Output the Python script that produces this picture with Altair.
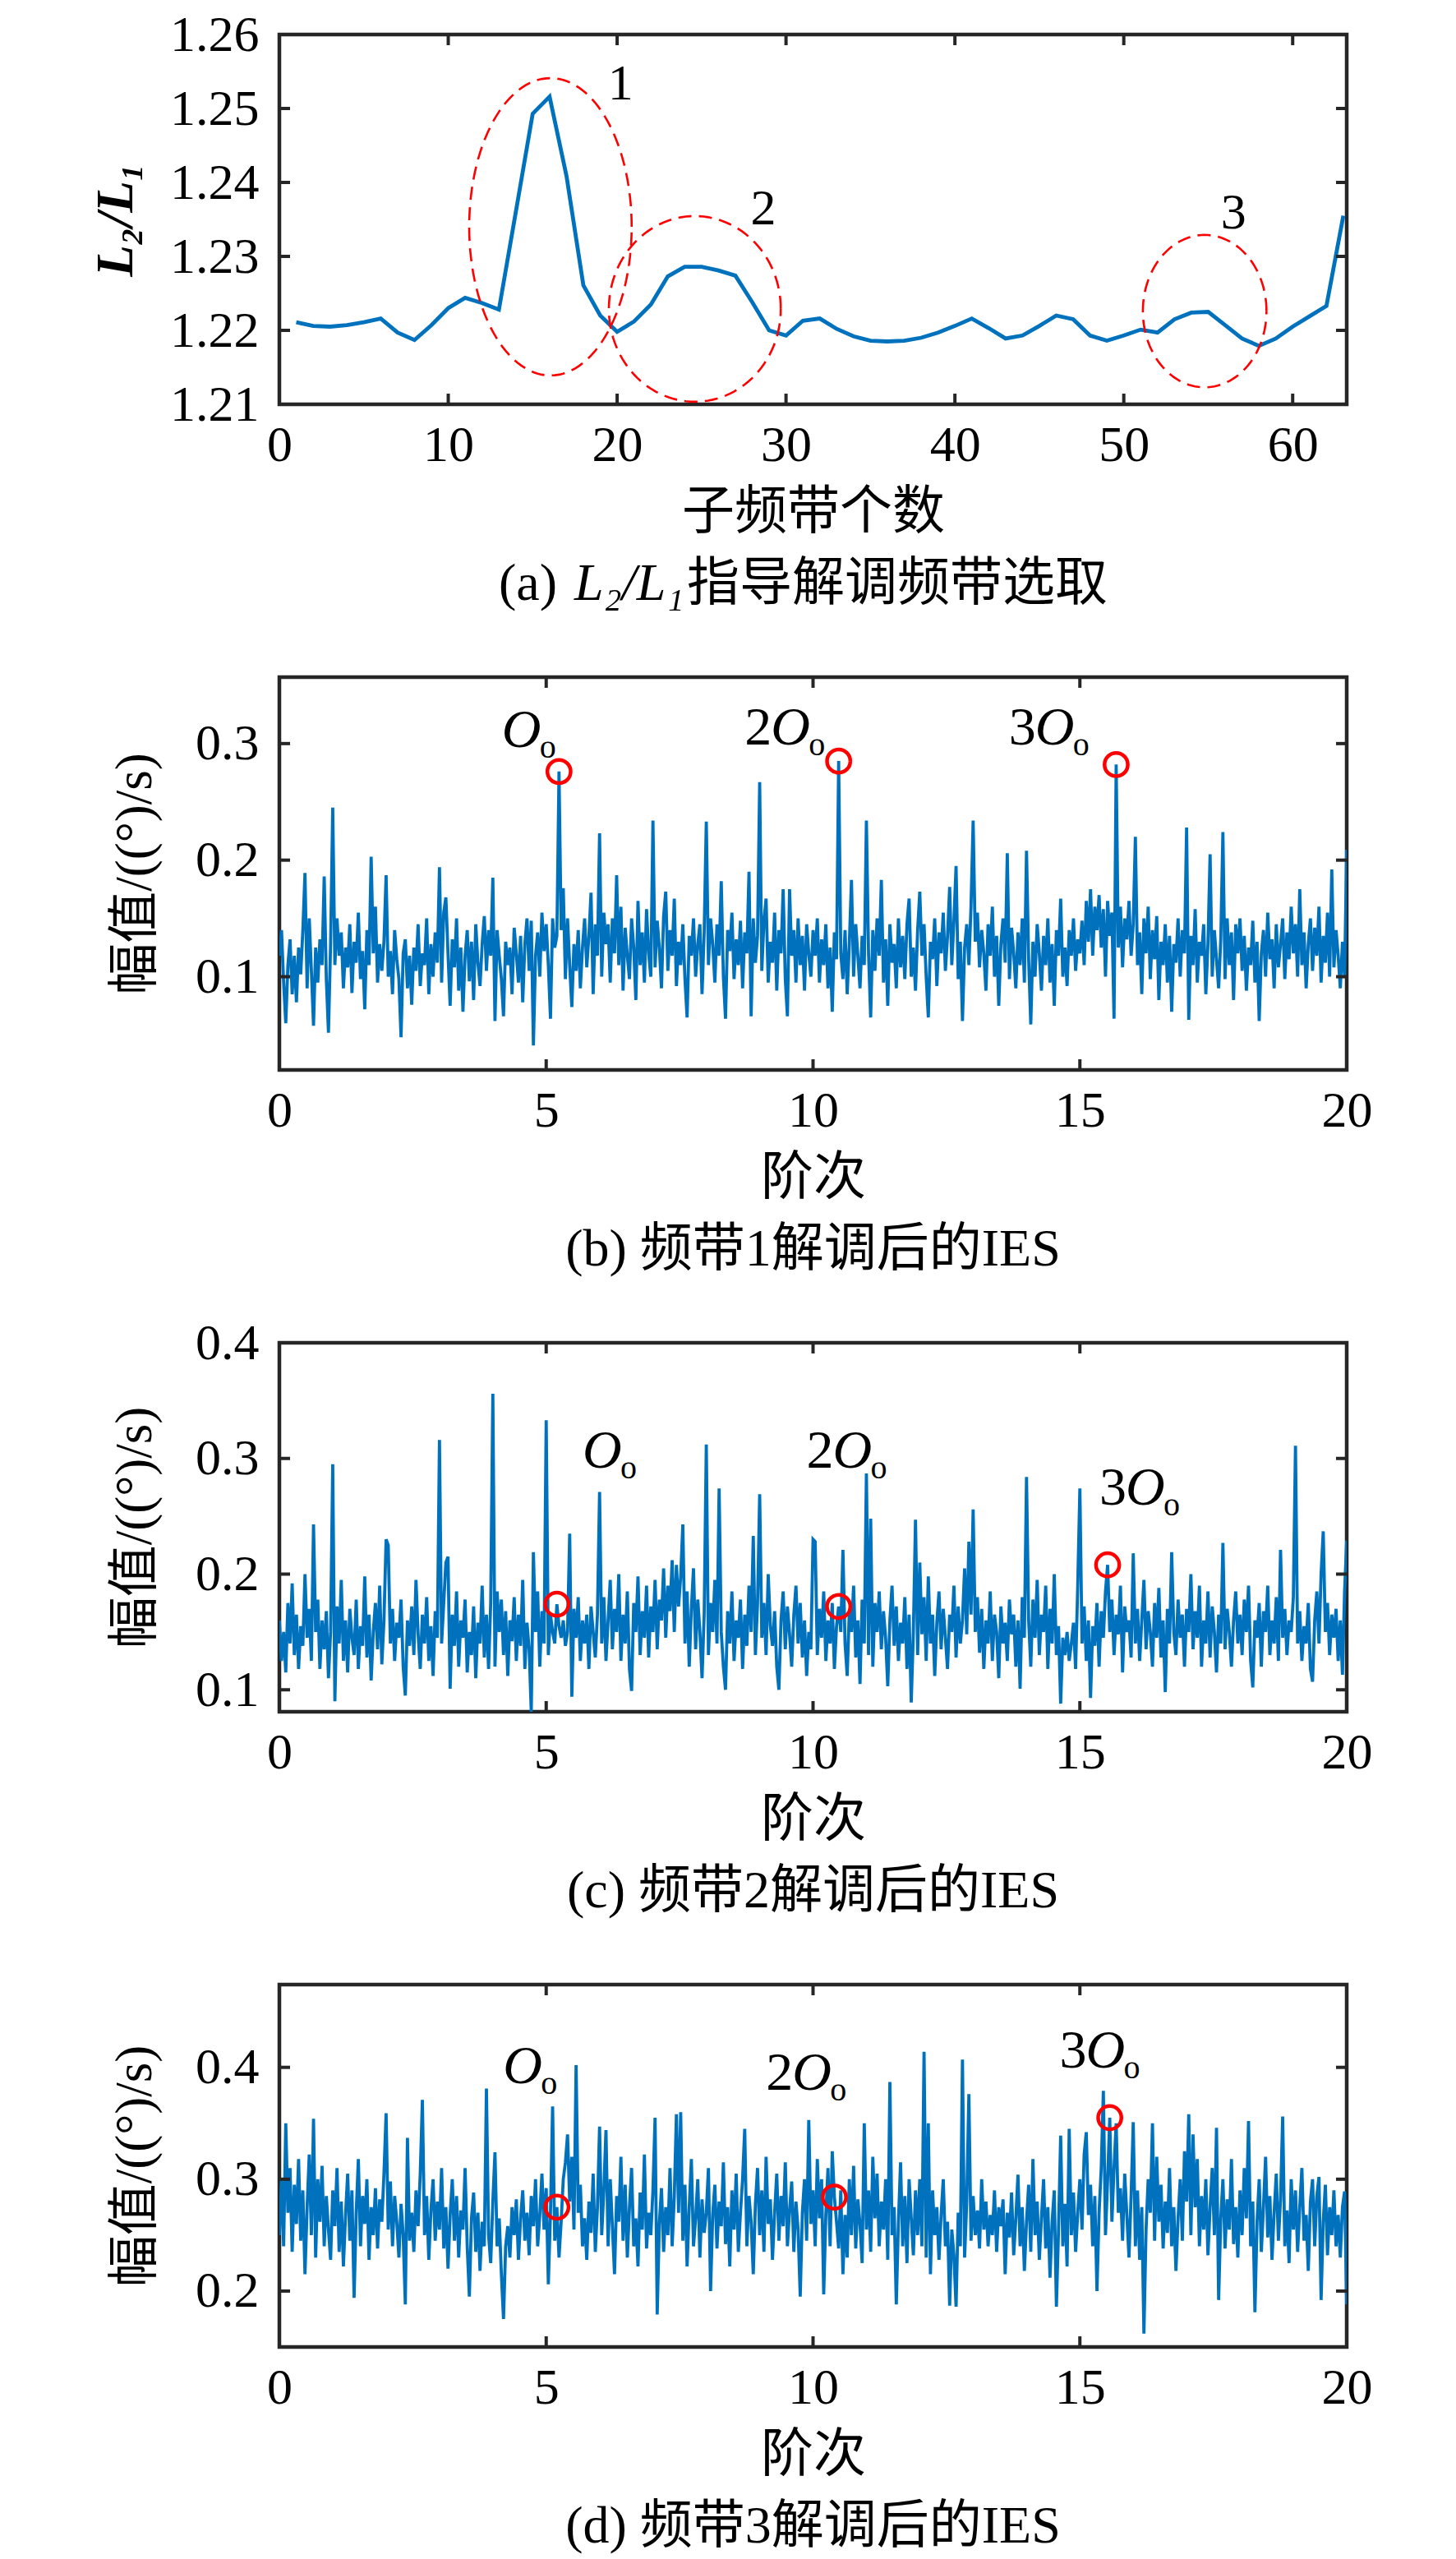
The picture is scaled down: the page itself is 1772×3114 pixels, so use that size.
import altair as alt
import numpy as np
import pandas as pd

SERIF = "'Liberation Serif', 'Noto Sans CJK SC', serif"
BLUE = "#0072BD"
RED = "#FF0000"
FRAME = "#262626"
W = 1299
TICK_LEN = 13
SPACING = 332
CAP_OFF = 219

# ---------------- panel (a) ----------------
band_index = list(range(1, 64))
l2_l1 = [1.2211, 1.2206, 1.2205, 1.2207, 1.2211, 1.2216, 1.2197, 1.2187, 1.2207, 1.2230,
         1.2244, 1.2237, 1.2228, 1.2360, 1.2493, 1.2516, 1.2409, 1.2261, 1.2220, 1.2198,
         1.2212, 1.2235, 1.2273, 1.2286, 1.2286, 1.2281, 1.2274, 1.2238, 1.2200, 1.2193,
         1.2213, 1.2216, 1.2202, 1.2192, 1.2186, 1.2185, 1.2186, 1.2190, 1.2197, 1.2206,
         1.2216, 1.2203, 1.2189, 1.2193, 1.2206, 1.2220, 1.2215, 1.2193, 1.2186, 1.2193,
         1.2201, 1.2197, 1.2215, 1.2224, 1.2225, 1.2207, 1.2189, 1.2179, 1.2189, 1.2205,
         1.2219, 1.2233, 1.2355]
a_xticks = [0, 10, 20, 30, 40, 50, 60]
a_yticks = [1.21, 1.22, 1.23, 1.24, 1.25, 1.26]
ell_cx = [16.05, 24.6, 54.79]
ell_cy = [1.2340, 1.2229, 1.2226]
ell_rx = [4.81, 5.09, 3.66]
ell_ry = [0.0201, 0.01255, 0.0103]
a_lab_text = ["1", "2", "3"]
a_lab_x = [20.2, 28.66, 56.5]
a_lab_y = [1.2533, 1.2364, 1.2359]

# ---------------- spectra (b), (c), (d) ----------------
amp_b = [
    0.118, 0.140, 0.095, 0.060, 0.110, 0.132, 0.085, 0.118, 0.078, 0.125, 0.102, 0.140, 0.189, 0.090, 0.150, 0.105, 0.058, 0.125, 0.095, 0.132, 0.110, 0.186, 0.098, 0.052, 0.128,
    0.245, 0.110, 0.150, 0.118, 0.138, 0.090, 0.125, 0.108, 0.145, 0.086, 0.130, 0.112, 0.155, 0.098, 0.122, 0.072, 0.140, 0.110, 0.203, 0.120, 0.160, 0.095, 0.128, 0.105, 0.130,
    0.187, 0.100, 0.122, 0.085, 0.140, 0.115, 0.098, 0.048, 0.120, 0.132, 0.090, 0.118, 0.076, 0.125, 0.105, 0.145, 0.092, 0.120, 0.110, 0.150, 0.085, 0.128, 0.100, 0.138, 0.112,
    0.194, 0.095, 0.155, 0.168, 0.120, 0.075, 0.132, 0.108, 0.150, 0.088, 0.125, 0.070, 0.118, 0.140, 0.096, 0.130, 0.080, 0.145, 0.112, 0.092, 0.128, 0.152, 0.105, 0.140, 0.118,
    0.185, 0.062, 0.140, 0.118, 0.098, 0.066, 0.130, 0.110, 0.125, 0.085, 0.142, 0.120, 0.095, 0.135, 0.078, 0.128, 0.150, 0.105, 0.148, 0.041, 0.118, 0.138, 0.100, 0.155, 0.122,
    0.145, 0.110, 0.064, 0.150, 0.125, 0.135, 0.276, 0.140, 0.176, 0.098, 0.150, 0.110, 0.074, 0.128, 0.105, 0.140, 0.090, 0.125, 0.150, 0.108, 0.135, 0.172, 0.085, 0.145, 0.118,
    0.223, 0.100, 0.155, 0.128, 0.145, 0.095, 0.150, 0.120, 0.187, 0.110, 0.160, 0.088, 0.142, 0.118, 0.098, 0.150, 0.125, 0.080, 0.165, 0.110, 0.138, 0.095, 0.158, 0.120, 0.100,
    0.234, 0.108, 0.148, 0.125, 0.090, 0.152, 0.173, 0.105, 0.140, 0.118, 0.167, 0.092, 0.130, 0.110, 0.145, 0.098, 0.065, 0.135, 0.118, 0.150, 0.100, 0.128, 0.145, 0.085, 0.138,
    0.233, 0.110, 0.150, 0.128, 0.095, 0.145, 0.118, 0.182, 0.100, 0.064, 0.140, 0.122, 0.155, 0.098, 0.132, 0.110, 0.148, 0.090, 0.138, 0.120, 0.190, 0.066, 0.150, 0.112, 0.135,
    0.267, 0.105, 0.148, 0.167, 0.095, 0.130, 0.112, 0.155, 0.088, 0.140, 0.120, 0.175, 0.098, 0.066, 0.175, 0.118, 0.140, 0.095, 0.150, 0.110, 0.135, 0.088, 0.145, 0.120, 0.100,
    0.140, 0.118, 0.150, 0.095, 0.132, 0.110, 0.145, 0.090, 0.125, 0.070, 0.138, 0.115, 0.285, 0.120, 0.098, 0.140, 0.085, 0.128, 0.183, 0.100, 0.145, 0.118, 0.090, 0.135, 0.110,
    0.234, 0.120, 0.065, 0.140, 0.105, 0.150, 0.118, 0.183, 0.095, 0.132, 0.075, 0.145, 0.112, 0.128, 0.090, 0.150, 0.108, 0.135, 0.098, 0.145, 0.167, 0.100, 0.125, 0.088, 0.140,
    0.173, 0.118, 0.145, 0.100, 0.065, 0.130, 0.115, 0.150, 0.092, 0.138, 0.120, 0.155, 0.105, 0.135, 0.177, 0.110, 0.148, 0.195, 0.098, 0.130, 0.062, 0.125, 0.145, 0.110, 0.160,
    0.234, 0.130, 0.155, 0.108, 0.140, 0.120, 0.088, 0.145, 0.118, 0.160, 0.100, 0.135, 0.075, 0.128, 0.150, 0.112, 0.206, 0.098, 0.142, 0.120, 0.090, 0.138, 0.110, 0.150, 0.095,
    0.208, 0.115, 0.059, 0.130, 0.100, 0.145, 0.120, 0.088, 0.135, 0.110, 0.150, 0.095, 0.128, 0.075, 0.140, 0.118, 0.167, 0.100, 0.125, 0.092, 0.140, 0.118, 0.150, 0.105, 0.132,
    0.120, 0.148, 0.110, 0.165, 0.130, 0.175, 0.118, 0.160, 0.140, 0.170, 0.125, 0.158, 0.100, 0.165, 0.135, 0.155, 0.064, 0.282, 0.125, 0.160, 0.108, 0.150, 0.132, 0.165, 0.118,
    0.145, 0.220, 0.110, 0.138, 0.085, 0.150, 0.120, 0.160, 0.098, 0.140, 0.115, 0.152, 0.080, 0.130, 0.110, 0.145, 0.095, 0.135, 0.070, 0.128, 0.112, 0.150, 0.100, 0.140, 0.120,
    0.228, 0.063, 0.135, 0.110, 0.158, 0.095, 0.130, 0.118, 0.145, 0.085, 0.128, 0.205, 0.100, 0.140, 0.115, 0.090, 0.132, 0.224, 0.098, 0.150, 0.110, 0.138, 0.080, 0.145, 0.120,
    0.150, 0.105, 0.135, 0.088, 0.125, 0.110, 0.148, 0.095, 0.130, 0.062, 0.120, 0.140, 0.100, 0.155, 0.115, 0.132, 0.090, 0.145, 0.108, 0.128, 0.150, 0.098, 0.138, 0.115, 0.160,
    0.120, 0.145, 0.100, 0.175, 0.110, 0.138, 0.090, 0.128, 0.150, 0.105, 0.142, 0.118, 0.160, 0.095, 0.135, 0.112, 0.155, 0.100, 0.192, 0.108, 0.140, 0.118, 0.090, 0.130, 0.100,
    0.209]

amp_c = [
    0.160, 0.125, 0.150, 0.115, 0.175, 0.140, 0.192, 0.130, 0.165, 0.118, 0.155, 0.138, 0.200, 0.145, 0.170, 0.125, 0.243, 0.150, 0.178, 0.118, 0.160, 0.135, 0.168, 0.110, 0.150,
    0.295, 0.090, 0.172, 0.140, 0.195, 0.125, 0.160, 0.115, 0.170, 0.145, 0.130, 0.178, 0.118, 0.155, 0.138, 0.198, 0.128, 0.165, 0.108, 0.150, 0.175, 0.135, 0.190, 0.122, 0.160,
    0.230, 0.225, 0.140, 0.170, 0.125, 0.158, 0.145, 0.178, 0.120, 0.095, 0.160, 0.138, 0.172, 0.130, 0.195, 0.148, 0.118, 0.165, 0.140, 0.180, 0.125, 0.155, 0.112, 0.168, 0.145,
    0.316, 0.140, 0.175, 0.210, 0.215, 0.101, 0.165, 0.138, 0.185, 0.120, 0.160, 0.145, 0.178, 0.115, 0.150, 0.130, 0.172, 0.110, 0.158, 0.140, 0.190, 0.128, 0.165, 0.118, 0.175,
    0.356, 0.120, 0.185, 0.150, 0.178, 0.130, 0.168, 0.112, 0.160, 0.142, 0.180, 0.125, 0.165, 0.138, 0.195, 0.118, 0.158, 0.135, 0.081, 0.219, 0.150, 0.185, 0.120, 0.168, 0.140,
    0.333, 0.130, 0.165, 0.150, 0.140, 0.174, 0.155, 0.145, 0.160, 0.138, 0.150, 0.235, 0.094, 0.170, 0.145, 0.180, 0.125, 0.160, 0.140, 0.165, 0.118, 0.172, 0.150, 0.128, 0.165,
    0.271, 0.140, 0.180, 0.125, 0.160, 0.195, 0.135, 0.170, 0.150, 0.200, 0.125, 0.165, 0.140, 0.185, 0.118, 0.099, 0.175, 0.150, 0.198, 0.130, 0.168, 0.145, 0.190, 0.128, 0.172,
    0.150, 0.195, 0.135, 0.178, 0.160, 0.205, 0.145, 0.190, 0.168, 0.212, 0.150, 0.208, 0.172, 0.198, 0.243, 0.140, 0.185, 0.120, 0.170, 0.205, 0.135, 0.178, 0.150, 0.110, 0.165,
    0.312, 0.130, 0.175, 0.150, 0.195, 0.140, 0.274, 0.150, 0.120, 0.100, 0.168, 0.140, 0.185, 0.125, 0.160, 0.145, 0.178, 0.118, 0.165, 0.138, 0.190, 0.150, 0.233, 0.130, 0.175,
    0.269, 0.145, 0.175, 0.130, 0.200, 0.155, 0.138, 0.168, 0.120, 0.100, 0.160, 0.185, 0.135, 0.172, 0.148, 0.120, 0.165, 0.190, 0.140, 0.175, 0.128, 0.160, 0.112, 0.150, 0.135,
    0.230, 0.228, 0.130, 0.170, 0.145, 0.185, 0.125, 0.160, 0.140, 0.175, 0.118, 0.155, 0.172, 0.150, 0.221, 0.140, 0.112, 0.168, 0.150, 0.190, 0.128, 0.160, 0.105, 0.178, 0.140,
    0.287, 0.130, 0.248, 0.120, 0.175, 0.150, 0.185, 0.135, 0.168, 0.145, 0.103, 0.160, 0.190, 0.138, 0.172, 0.125, 0.158, 0.140, 0.180, 0.118, 0.165, 0.089, 0.150, 0.247, 0.130,
    0.210, 0.148, 0.180, 0.125, 0.198, 0.140, 0.165, 0.112, 0.158, 0.185, 0.135, 0.170, 0.145, 0.118, 0.165, 0.150, 0.190, 0.128, 0.172, 0.140, 0.160, 0.205, 0.148, 0.228, 0.165,
    0.256, 0.150, 0.180, 0.132, 0.170, 0.118, 0.160, 0.140, 0.185, 0.125, 0.165, 0.150, 0.110, 0.172, 0.140, 0.158, 0.125, 0.178, 0.148, 0.165, 0.120, 0.160, 0.101, 0.180, 0.145,
    0.284, 0.160, 0.120, 0.178, 0.145, 0.195, 0.130, 0.165, 0.150, 0.190, 0.118, 0.170, 0.140, 0.200, 0.130, 0.155, 0.088, 0.145, 0.130, 0.150, 0.125, 0.140, 0.158, 0.118, 0.190,
    0.274, 0.140, 0.172, 0.125, 0.160, 0.093, 0.155, 0.138, 0.175, 0.120, 0.168, 0.145, 0.185, 0.208, 0.150, 0.178, 0.130, 0.165, 0.148, 0.190, 0.115, 0.172, 0.150, 0.160, 0.128,
    0.218, 0.140, 0.170, 0.125, 0.160, 0.195, 0.135, 0.168, 0.150, 0.120, 0.175, 0.145, 0.188, 0.128, 0.160, 0.098, 0.170, 0.140, 0.219, 0.150, 0.130, 0.178, 0.145, 0.165, 0.120,
    0.170, 0.150, 0.200, 0.135, 0.168, 0.145, 0.190, 0.120, 0.160, 0.140, 0.185, 0.128, 0.172, 0.150, 0.115, 0.165, 0.140, 0.227, 0.135, 0.170, 0.150, 0.120, 0.160, 0.185, 0.140,
    0.165, 0.130, 0.178, 0.150, 0.190, 0.125, 0.102, 0.160, 0.145, 0.175, 0.120, 0.168, 0.150, 0.190, 0.130, 0.160, 0.140, 0.180, 0.125, 0.221, 0.145, 0.170, 0.130, 0.160, 0.150,
    0.180, 0.311, 0.140, 0.168, 0.125, 0.155, 0.140, 0.175, 0.118, 0.107, 0.160, 0.185, 0.140, 0.200, 0.237, 0.150, 0.175, 0.130, 0.165, 0.145, 0.170, 0.125, 0.160, 0.113, 0.185,
    0.229]

amp_d = [
    0.250, 0.300, 0.240, 0.350, 0.270, 0.310, 0.235, 0.295, 0.260, 0.318, 0.245, 0.290, 0.215, 0.275, 0.322, 0.250, 0.354, 0.230, 0.300, 0.262, 0.312, 0.240, 0.285, 0.255, 0.228,
    0.290, 0.258, 0.310, 0.235, 0.280, 0.222, 0.268, 0.305, 0.245, 0.290, 0.194, 0.270, 0.318, 0.240, 0.285, 0.260, 0.300, 0.228, 0.275, 0.250, 0.292, 0.238, 0.282, 0.262, 0.305,
    0.359, 0.255, 0.298, 0.240, 0.285, 0.262, 0.230, 0.278, 0.250, 0.188, 0.337, 0.245, 0.270, 0.235, 0.290, 0.258, 0.305, 0.371, 0.250, 0.285, 0.228, 0.272, 0.300, 0.245, 0.280,
    0.255, 0.310, 0.238, 0.275, 0.220, 0.268, 0.300, 0.245, 0.285, 0.230, 0.272, 0.255, 0.310, 0.240, 0.195, 0.265, 0.288, 0.235, 0.270, 0.218, 0.262, 0.240, 0.381, 0.250, 0.225,
    0.280, 0.324, 0.240, 0.265, 0.215, 0.175, 0.240, 0.258, 0.230, 0.275, 0.250, 0.282, 0.228, 0.265, 0.290, 0.245, 0.270, 0.232, 0.285, 0.258, 0.300, 0.240, 0.268, 0.305, 0.255,
    0.292, 0.206, 0.270, 0.365, 0.245, 0.275, 0.230, 0.262, 0.300, 0.315, 0.340, 0.280, 0.320, 0.255, 0.402, 0.270, 0.295, 0.240, 0.265, 0.228, 0.280, 0.252, 0.305, 0.235, 0.275,
    0.347, 0.250, 0.290, 0.344, 0.240, 0.300, 0.258, 0.215, 0.285, 0.262, 0.320, 0.245, 0.295, 0.230, 0.275, 0.310, 0.240, 0.265, 0.222, 0.288, 0.255, 0.322, 0.238, 0.270, 0.250,
    0.290, 0.355, 0.179, 0.260, 0.292, 0.235, 0.275, 0.250, 0.310, 0.240, 0.285, 0.358, 0.270, 0.360, 0.245, 0.295, 0.222, 0.275, 0.318, 0.240, 0.265, 0.300, 0.230, 0.282, 0.252,
    0.270, 0.310, 0.200, 0.268, 0.295, 0.238, 0.280, 0.258, 0.315, 0.242, 0.275, 0.222, 0.290, 0.255, 0.305, 0.235, 0.270, 0.300, 0.345, 0.240, 0.285, 0.262, 0.215, 0.278, 0.310,
    0.250, 0.290, 0.235, 0.320, 0.260, 0.282, 0.228, 0.270, 0.305, 0.245, 0.285, 0.258, 0.315, 0.240, 0.272, 0.298, 0.235, 0.280, 0.255, 0.195, 0.270, 0.300, 0.245, 0.353, 0.260,
    0.290, 0.240, 0.318, 0.265, 0.300, 0.197, 0.268, 0.310, 0.240, 0.325, 0.284, 0.262, 0.238, 0.290, 0.215, 0.268, 0.230, 0.300, 0.250, 0.312, 0.238, 0.282, 0.260, 0.225, 0.350,
    0.255, 0.290, 0.235, 0.320, 0.265, 0.305, 0.240, 0.280, 0.255, 0.300, 0.228, 0.387, 0.250, 0.275, 0.188, 0.262, 0.315, 0.240, 0.285, 0.225, 0.300, 0.265, 0.232, 0.290, 0.250,
    0.300, 0.240, 0.414, 0.230, 0.350, 0.215, 0.290, 0.250, 0.275, 0.228, 0.268, 0.300, 0.240, 0.262, 0.187, 0.255, 0.232, 0.186, 0.270, 0.240, 0.407, 0.230, 0.280, 0.376, 0.245,
    0.285, 0.250, 0.272, 0.238, 0.300, 0.255, 0.280, 0.240, 0.268, 0.250, 0.290, 0.235, 0.275, 0.258, 0.282, 0.215, 0.270, 0.248, 0.288, 0.232, 0.265, 0.304, 0.240, 0.275, 0.218,
    0.262, 0.295, 0.235, 0.318, 0.250, 0.280, 0.228, 0.265, 0.300, 0.238, 0.275, 0.212, 0.262, 0.290, 0.186, 0.255, 0.339, 0.240, 0.278, 0.222, 0.345, 0.250, 0.288, 0.235, 0.270,
    0.300, 0.255, 0.322, 0.342, 0.268, 0.295, 0.240, 0.285, 0.200, 0.270, 0.310, 0.379, 0.250, 0.300, 0.355, 0.262, 0.310, 0.350, 0.270, 0.292, 0.245, 0.305, 0.268, 0.230, 0.285,
    0.351, 0.240, 0.290, 0.228, 0.275, 0.162, 0.255, 0.300, 0.270, 0.350, 0.245, 0.320, 0.262, 0.295, 0.238, 0.280, 0.252, 0.310, 0.240, 0.275, 0.218, 0.265, 0.300, 0.245, 0.325,
    0.280, 0.358, 0.250, 0.340, 0.275, 0.318, 0.240, 0.285, 0.255, 0.300, 0.232, 0.275, 0.310, 0.250, 0.346, 0.192, 0.265, 0.300, 0.238, 0.282, 0.255, 0.318, 0.242, 0.275, 0.230,
    0.290, 0.250, 0.310, 0.265, 0.352, 0.240, 0.280, 0.181, 0.262, 0.300, 0.235, 0.275, 0.320, 0.248, 0.285, 0.228, 0.270, 0.305, 0.245, 0.282, 0.356, 0.240, 0.272, 0.225, 0.300,
    0.255, 0.290, 0.235, 0.275, 0.310, 0.245, 0.268, 0.218, 0.280, 0.300, 0.240, 0.285, 0.302, 0.192, 0.262, 0.295, 0.232, 0.275, 0.250, 0.290, 0.240, 0.268, 0.230, 0.275, 0.289,
    0.188]

assert len(amp_b) == 501 and len(amp_c) == 501 and len(amp_d) == 501
order_grid = [round(0.04 * i, 2) for i in range(501)]
spec_xticks = [0, 5, 10, 15, 20]

# peaks marked with red circles
b_circ_x = [5.24, 10.48, 15.68]
b_circ_y = [0.276, 0.285, 0.282]
c_circ_x = [5.20, 10.48, 15.52]
c_circ_y = [0.174, 0.172, 0.208]
d_circ_x = [5.20, 10.40, 15.56]
d_circ_y = [0.275, 0.284, 0.355]

# harmonic labels: O-left position and baseline
harm_prefix = ["", "2", "3"]
b_lab_x = [4.17, 9.21, 14.16]
b_lab_y = [0.297, 0.299, 0.299]
c_lab_x = [5.68, 10.37, 15.86]
c_lab_y = [0.2917, 0.2917, 0.2598]
d_lab_x = [4.19, 9.61, 15.11]
d_lab_y = [0.386, 0.380, 0.3995]


def x_axis(values, title, fmt):
    return alt.Axis(values=values, format=fmt, ticks=False, domain=False, grid=False,
                    labelFont=SERIF, labelFontSize=62, labelColor="black", labelPadding=19,
                    labelFlush=False, labelOverlap=False, labelBound=False,
                    title=title, titleFont=SERIF, titleFontSize=64, titleFontWeight="normal",
                    titleColor="black", titlePadding=19)


def y_axis(values, title, fmt, tpad, style="normal", weight="normal"):
    return alt.Axis(values=values, format=fmt, ticks=False, domain=False, grid=False,
                    labelFont=SERIF, labelFontSize=62, labelColor="black", labelPadding=25,
                    labelFlush=False, labelOverlap=False, labelBound=False,
                    title=title, titleFont=SERIF, titleFontSize=63, titleFontWeight=weight,
                    titleFontStyle=style, titleColor="black", titlePadding=tpad)


def frame_ticks(xticks, yticks, xs, ys, xax, yax, height):
    xt = pd.DataFrame({"t": xticks})
    yt = pd.DataFrame({"t": yticks})
    common = dict(color=FRAME, thickness=4, size=2 * TICK_LEN, clip=True, opacity=1)
    layers = []
    for yv in (0, height):
        layers.append(alt.Chart(xt).mark_tick(orient="vertical", **common).encode(
            x=alt.X("t:Q", scale=xs, axis=xax), y=alt.value(yv)))
    for xv in (0, W):
        layers.append(alt.Chart(yt).mark_tick(orient="horizontal", **common).encode(
            y=alt.Y("t:Q", scale=ys, axis=yax), x=alt.value(xv)))
    return layers


def caption(text, height):
    return alt.Chart(pd.DataFrame({"t": [text]})).mark_text(
        font=SERIF, fontSize=64, color="black", align="center", baseline="middle"
    ).encode(text="t:N", x=alt.value(W / 2), y=alt.value(height + CAP_OFF))


# ---------- build panel (a) ----------
HA = 450
xs_a = alt.Scale(domain=[0, 63.2], nice=False, zero=False)
ys_a = alt.Scale(domain=[1.21, 1.26], nice=False, zero=False)
xax_a = x_axis(a_xticks, "子频带个数", "d")
yax_a = y_axis(a_yticks, "L₂/L₁", ".2f", 33, "italic", "bold")
df_a = pd.DataFrame({"band": band_index, "ratio": l2_l1})
line_a = alt.Chart(df_a).mark_line(color=BLUE, strokeWidth=4.8).encode(
    x=alt.X("band:Q", scale=xs_a, axis=xax_a),
    y=alt.Y("ratio:Q", scale=ys_a, axis=yax_a),
)
t = np.linspace(0, 2 * np.pi, 121)
ell_rows = []
for i in range(3):
    for k, tt in enumerate(t):
        ell_rows.append({"id": i, "k": k,
                         "band": ell_cx[i] + ell_rx[i] * np.cos(tt),
                         "ratio": ell_cy[i] + ell_ry[i] * np.sin(tt)})
ell = alt.Chart(pd.DataFrame(ell_rows)).mark_line(
    color=RED, strokeWidth=2.6, strokeDash=[16, 9]).encode(
    x=alt.X("band:Q", scale=xs_a, axis=xax_a), y=alt.Y("ratio:Q", scale=ys_a, axis=yax_a),
    order="k:Q", detail="id:N")
lab_a = alt.Chart(pd.DataFrame({"band": a_lab_x, "ratio": a_lab_y, "t": a_lab_text})).mark_text(
    font=SERIF, fontSize=62, color="black", align="center", baseline="middle").encode(
    x=alt.X("band:Q", scale=xs_a, axis=xax_a), y=alt.Y("ratio:Q", scale=ys_a, axis=yax_a), text="t:N")

cap_parts_a = [("(a)", 338, "right", "normal"), ("L₂/L₁", 359, "left", "italic"),
               ("指导解调频带选取", 496, "left", "normal")]
cap_a = [alt.Chart(pd.DataFrame({"t": [txt]})).mark_text(
    font=SERIF, fontSize=64, color="black", align=al, baseline="middle", fontStyle=st
).encode(text="t:N", x=alt.value(px), y=alt.value(HA + CAP_OFF)) for txt, px, al, st in cap_parts_a]

panel_a = alt.layer(line_a, ell, lab_a,
                    *frame_ticks(a_xticks, a_yticks, xs_a, ys_a, xax_a, yax_a, HA), *cap_a
                    ).properties(width=W, height=HA)


def spectrum_panel(amp, height, ydom, yticks, circ_x, circ_y, lab_x, lab_y, cap_text):
    xs = alt.Scale(domain=[0, 20], nice=False, zero=False)
    ys = alt.Scale(domain=ydom, nice=False, zero=False)
    xax = x_axis(spec_xticks, "阶次", "d")
    yax = y_axis(yticks, "幅值/((°)/s)", ".1f", 41)
    df = pd.DataFrame({"order": order_grid, "amp": amp})
    enc = dict(x=alt.X("order:Q", scale=xs, axis=xax), y=alt.Y("amp:Q", scale=ys, axis=yax))
    line = alt.Chart(df).mark_line(color=BLUE, strokeWidth=3.8, clip=True).encode(**enc)
    circ = alt.Chart(pd.DataFrame({"order": circ_x, "amp": circ_y})).mark_point(
        shape="circle", filled=False, size=800, strokeWidth=4.5, color=RED, opacity=1).encode(**enc)
    ldf = pd.DataFrame({"order": lab_x, "amp": lab_y, "p": harm_prefix})
    big_o = alt.Chart(ldf).mark_text(text="O", font=SERIF, fontSize=66, fontStyle="italic",
                                      color="black", align="left", baseline="alphabetic").encode(**enc)
    pre = alt.Chart(ldf).mark_text(font=SERIF, fontSize=66, color="black", align="right",
                                   baseline="alphabetic", dx=1).encode(text="p:N", **enc)
    sub = alt.Chart(ldf).mark_text(text="o", font=SERIF, fontSize=40, color="black", align="left",
                                   baseline="alphabetic", dx=46, dy=13).encode(**enc)
    return alt.layer(line, circ, big_o, pre, sub,
                     *frame_ticks(spec_xticks, yticks, xs, ys, xax, yax, height),
                     caption(cap_text, height)).properties(width=W, height=height)


panel_b = spectrum_panel(amp_b, 478, [0.02, 0.357], [0.1, 0.2, 0.3], b_circ_x, b_circ_y,
                         b_lab_x, b_lab_y, "(b) 频带1解调后的IES")
panel_c = spectrum_panel(amp_c, 449, [0.081, 0.4], [0.1, 0.2, 0.3, 0.4], c_circ_x, c_circ_y,
                         c_lab_x, c_lab_y, "(c) 频带2解调后的IES")
panel_d = spectrum_panel(amp_d, 441, [0.15, 0.474], [0.2, 0.3, 0.4], d_circ_x, d_circ_y,
                         d_lab_x, d_lab_y, "(d) 频带3解调后的IES")

chart = alt.vconcat(panel_a, panel_b, panel_c, panel_d, spacing=SPACING, bounds="flush").properties(
    padding={"left": 100, "top": 0, "right": 10, "bottom": 10}, background="white"
).configure_view(stroke=FRAME, strokeWidth=4.5)

chart.save("out.html", embed_options={"renderer": "svg", "actions": False})
